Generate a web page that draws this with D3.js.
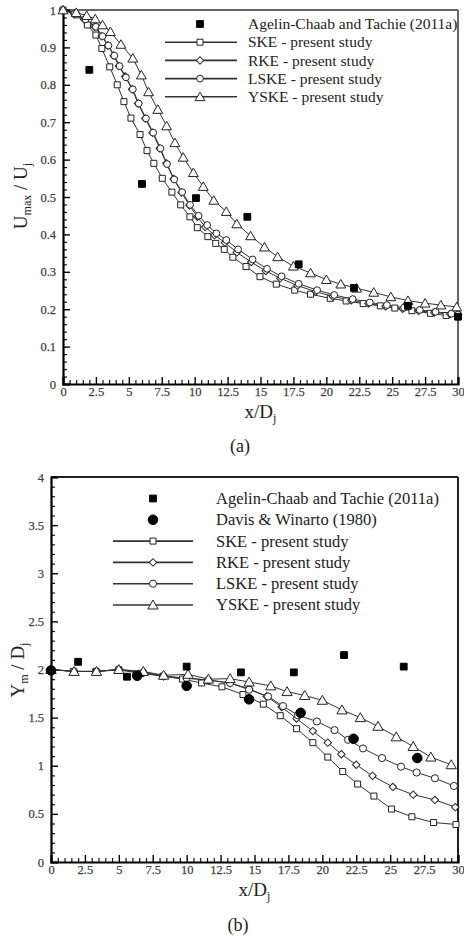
<!DOCTYPE html>
<html><head><meta charset="utf-8">
<script src="https://cdn.jsdelivr.net/npm/d3@7"></script>
<style>body{margin:0;background:#fff}svg{display:block}</style>
</head><body><div id="chart"></div>
<script>
// ---------- DATA ----------
const xTickValues = [0,2.5,5,7.5,10,12.5,15,17.5,20,22.5,25,27.5,30];
const xTickLabels = ["0","2.5","5","7.5","10","12.5","15","17.5","20","22.5","25","27.5","30"];
const yTickValuesA = [0,0.1,0.2,0.3,0.4,0.5,0.6,0.7,0.8,0.9,1];
const yTickLabelsA = ["0","0.1","0.2","0.3","0.4","0.5","0.6","0.7","0.8","0.9","1"];
const yTickValuesB = [0,0.5,1,1.5,2,2.5,3,3.5,4];
const yTickLabelsB = ["0","0.5","1","1.5","2","2.5","3","3.5","4"];

const legendA = ["Agelin-Chaab and Tachie (2011a)","SKE - present study","RKE - present study","LSKE - present study","YSKE - present study"];
const legendB = ["Agelin-Chaab and Tachie (2011a)","Davis & Winarto (1980)","SKE - present study","RKE - present study","LSKE - present study","YSKE - present study"];

// Panel (a): Umax/Uj vs x/Dj
const aAgelin = [[2.0,0.84],[6.0,0.535],[10.1,0.497],[14.0,0.447],[17.9,0.32],[22.1,0.257],[26.2,0.209],[30.0,0.18]];
const aSKE = [[0,1.0],[1.0,0.987],[1.85,0.96],[2.5,0.933],[2.95,0.897],[3.55,0.848],[4.12,0.8],[4.63,0.755],[5.16,0.711],[5.85,0.667],[6.38,0.624],[6.9,0.59],[7.54,0.55],[8.27,0.513],[8.94,0.479],[9.64,0.447],[10.2,0.418],[11.0,0.394],[11.6,0.376],[12.25,0.36],[12.9,0.339],[13.9,0.314],[14.96,0.287],[16.2,0.267],[17.6,0.251],[18.8,0.24],[20.3,0.229],[21.5,0.222],[22.8,0.215],[24.1,0.209],[25.2,0.203],[26.5,0.196],[27.9,0.189],[29.1,0.183],[30,0.18]];
const aRKE = [[0,1.0],[0.85,0.99],[1.6,0.975],[2.4,0.955],[2.95,0.93],[3.4,0.905],[3.85,0.878],[4.25,0.85],[4.72,0.822],[5.25,0.788],[5.7,0.75],[6.25,0.71],[6.8,0.672],[7.35,0.63],[7.85,0.59],[8.4,0.548],[9.0,0.512],[9.6,0.478],[10.2,0.447],[10.8,0.42],[11.5,0.398],[12.3,0.378],[13.2,0.352],[14.3,0.326],[15.4,0.302],[16.5,0.283],[17.8,0.263],[19.2,0.247],[20.5,0.234],[21.9,0.224],[23.2,0.215],[24.5,0.208],[25.8,0.201],[27.0,0.196],[28.2,0.191],[29.4,0.187],[30,0.185]];
const aLSKE = [[0,1.0],[0.9,0.99],[1.7,0.975],[2.5,0.955],[3.0,0.93],[3.45,0.905],[3.9,0.878],[4.3,0.85],[4.78,0.82],[5.3,0.788],[5.75,0.75],[6.3,0.71],[6.85,0.672],[7.4,0.63],[7.9,0.588],[8.45,0.547],[9.05,0.513],[9.65,0.479],[10.3,0.45],[10.95,0.425],[11.65,0.403],[12.4,0.385],[13.3,0.36],[14.4,0.333],[15.5,0.308],[16.6,0.288],[17.9,0.268],[19.3,0.251],[20.6,0.238],[22.0,0.227],[23.3,0.218],[24.6,0.211],[25.9,0.204],[27.1,0.198],[28.3,0.193],[29.5,0.188],[30,0.186]];
const aYSKE = [[0,1.0],[1.0,0.993],[1.8,0.985],[2.45,0.976],[3.0,0.96],[3.6,0.942],[4.4,0.908],[5.3,0.871],[5.95,0.826],[6.5,0.781],[7.2,0.734],[7.87,0.69],[8.5,0.645],[9.13,0.606],[9.9,0.565],[10.65,0.528],[11.45,0.491],[12.4,0.461],[13.2,0.428],[14.25,0.396],[15.3,0.366],[16.3,0.34],[17.5,0.315],[18.8,0.297],[20.0,0.279],[21.1,0.267],[22.3,0.256],[23.6,0.245],[24.9,0.233],[26.2,0.223],[27.5,0.216],[28.7,0.211],[29.9,0.206]];

// Panel (b): Ym/Dj vs x/Dj
const bAgelin = [[2.0,2.08],[5.6,1.925],[10.0,2.03],[14.0,1.97],[17.9,1.97],[21.6,2.15],[26.0,2.03]];
const bDavis = [[0,1.99],[6.35,1.935],[10.0,1.83],[14.6,1.69],[18.4,1.55],[22.3,1.28],[27.0,1.08]];
const bSKE = [[0,2.0],[1.65,1.98],[3.3,1.98],[5.0,1.995],[6.65,1.96],[8.25,1.93],[9.7,1.9],[11.1,1.86],[12.6,1.82],[14.15,1.74],[15.65,1.64],[16.9,1.52],[18.1,1.385],[19.3,1.24],[20.4,1.09],[21.5,0.94],[22.6,0.81],[23.8,0.685],[25.1,0.55],[26.6,0.47],[28.2,0.41],[29.85,0.39]];
const bRKE = [[0,2.0],[1.7,1.98],[3.35,1.98],[5.0,2.0],[6.8,1.97],[8.3,1.93],[10.0,1.91],[11.6,1.89],[13.2,1.86],[14.6,1.8],[15.9,1.72],[17.0,1.61],[18.1,1.49],[19.3,1.36],[20.4,1.24],[21.4,1.12],[22.5,1.01],[23.7,0.895],[25.2,0.78],[26.7,0.7],[28.3,0.645],[29.8,0.57]];
const bLSKE = [[0,2.0],[1.7,1.98],[3.35,1.98],[5.0,2.0],[6.8,1.97],[8.3,1.93],[10.0,1.91],[11.6,1.89],[13.2,1.86],[14.6,1.79],[16.0,1.72],[17.1,1.62],[18.2,1.525],[19.6,1.46],[20.9,1.37],[21.9,1.27],[23.0,1.18],[24.4,1.08],[25.8,0.99],[26.95,0.93],[28.3,0.87],[29.7,0.79]];
const bYSKE = [[0,2.0],[1.7,1.98],[3.35,1.98],[5.0,2.0],[6.8,1.98],[8.3,1.94],[10.1,1.95],[11.6,1.9],[13.2,1.905],[14.6,1.87],[16.2,1.83],[17.4,1.77],[18.7,1.73],[20.0,1.68],[21.45,1.58],[22.8,1.5],[24.1,1.41],[25.45,1.3],[26.7,1.2],[28.0,1.09],[29.5,1.01]];

// ---------- DRAW ----------
const W = 464, H = 936;
const FONT = "'Liberation Serif','Times New Roman',serif";
const svg = d3.select("#chart").append("svg").attr("width", W).attr("height", H)
  .style("background", "#fff");

const symSquare = d3.symbol().type(d3.symbolSquare);
const symCircle = d3.symbol().type(d3.symbolCircle);
const symTri = d3.symbol().type(d3.symbolTriangle);

function marker(g, kind, x, y, opts) {
  const o = Object.assign({fill: "#fff", stroke: "#222", sw: 1}, opts || {});
  let p;
  if (kind === "square") p = g.append("path").attr("d", symSquare.size(o.size || 40)()).attr("transform", `translate(${x},${y})`);
  else if (kind === "diamond") p = g.append("path").attr("d", symSquare.size(o.size || 30)()).attr("transform", `translate(${x},${y}) rotate(45)`);
  else if (kind === "circle") p = g.append("path").attr("d", symCircle.size(o.size || 38)()).attr("transform", `translate(${x},${y})`);
  else if (kind === "triangle") p = g.append("path").attr("d", symTri.size(o.size || 40)()).attr("transform", `translate(${x},${y + 1})`);
  p.attr("fill", o.fill).attr("stroke", o.stroke).attr("stroke-width", o.sw);
  return p;
}

function panel(cfg) {
  const g = svg.append("g");
  const x = d3.scaleLinear().domain([0, 30]).range([cfg.x0, cfg.x1]);
  const y = d3.scaleLinear().domain(cfg.ydom).range([cfg.y0, cfg.y1]);

  // frame top/right
  g.append("line").attr("x1", cfg.x0).attr("x2", cfg.x1).attr("y1", cfg.y1).attr("y2", cfg.y1)
    .attr("stroke", cfg.frameColor).attr("stroke-width", 2);
  g.append("line").attr("x1", cfg.x1).attr("x2", cfg.x1).attr("y1", cfg.y1).attr("y2", cfg.y0)
    .attr("stroke", cfg.frameColor).attr("stroke-width", 2);

  // minor ticks
  const xMinor = d3.range(0, 30.001, 0.5).filter(v => Math.abs(v / 2.5 - Math.round(v / 2.5)) > 1e-6);
  const yMinor = d3.range(cfg.ydom[0], cfg.ydom[1] + 1e-6, cfg.yMinorStep)
    .filter(v => Math.abs(v / cfg.yMajorStep - Math.round(v / cfg.yMajorStep)) > 1e-6);
  g.append("g").attr("transform", `translate(0,${cfg.y0})`)
    .call(d3.axisBottom(x).tickValues(xMinor).tickSize(-4).tickFormat(""))
    .call(s => s.select(".domain").remove())
    .selectAll("line").attr("stroke", "#111").attr("stroke-width", 1.2);
  g.append("g").attr("transform", `translate(${cfg.x0},0)`)
    .call(d3.axisLeft(y).tickValues(yMinor).tickSize(-4).tickFormat(""))
    .call(s => s.select(".domain").remove())
    .selectAll("line").attr("stroke", "#111").attr("stroke-width", 1.2);

  // major axes
  const xa = g.append("g").attr("transform", `translate(0,${cfg.y0})`)
    .call(d3.axisBottom(x).tickValues(xTickValues).tickSize(-7).tickPadding(3)
      .tickFormat((d, i) => xTickLabels[i]));
  const ya = g.append("g").attr("transform", `translate(${cfg.x0},0)`)
    .call(d3.axisLeft(y).tickValues(cfg.yTicks).tickSize(-7).tickPadding(7)
      .tickFormat((d, i) => cfg.yLabels[i]));
  [xa, ya].forEach(a => {
    a.attr("font-family", FONT);
    a.select(".domain").attr("stroke", "#000").attr("stroke-width", 2.2);
    a.selectAll(".tick line").attr("stroke", "#000").attr("stroke-width", 1.4);
    a.selectAll(".tick text").style("font-family", FONT).attr("font-size", 12.5)
      .attr("fill", "#333").attr("stroke", "#555").attr("stroke-width", 0.25);
  });

  // series
  const line = d3.line().x(d => x(d[0])).y(d => y(d[1]));
  cfg.series.forEach(s => {
    g.append("path").datum(s.data).attr("d", line).attr("fill", "none")
      .attr("stroke", "#333").attr("stroke-width", 1);
  });
  cfg.series.forEach(s => {
    s.data.forEach(d => marker(g, s.kind, x(d[0]), y(d[1]), {size: s.size}));
  });
  cfg.scatter.forEach(s => {
    s.data.forEach(d => marker(g, s.kind, x(d[0]), y(d[1]), {fill: "#000", stroke: "#000", size: s.size}));
  });

  // legend
  const L = cfg.legend;
  L.items.forEach((it, i) => {
    const ly = L.y + i * L.dy;
    if (it.line) g.append("line").attr("x1", L.lx0).attr("x2", L.lx1).attr("y1", ly).attr("y2", ly)
      .attr("stroke", "#333").attr("stroke-width", 1.6);
    marker(g, it.kind, L.mx, ly, it.filled ? {fill: "#000", stroke: "#000", size: it.size} : {size: it.size});
    g.append("text").attr("x", L.tx).attr("y", ly).attr("dy", "0.33em")
      .style("font-family", FONT).attr("font-size", L.fs).attr("fill", "#222").text(it.label);
  });

  // axis titles
  const xt = g.append("text").attr("x", (cfg.x0 + cfg.x1) / 2).attr("y", cfg.xtY)
    .attr("text-anchor", "middle").style("font-family", FONT).attr("font-size", 19).attr("fill", "#222");
  xt.append("tspan").text("x/D");
  xt.append("tspan").attr("dy", 4).attr("font-size", 12).text("j");

  const yt = g.append("text").attr("transform", `translate(${cfg.ytX},${cfg.ytY}) rotate(-90)`)
    .attr("text-anchor", "middle").style("font-family", FONT).attr("font-size", 19).attr("fill", "#222");
  cfg.ytParts.forEach(p => {
    const t = yt.append("tspan").text(p.t);
    if (p.sub) t.attr("dy", 4).attr("font-size", 12);
    else if (p.back) t.attr("dy", -4);
  });

  svg.append("text").attr("x", cfg.capX).attr("y", cfg.capY).attr("text-anchor", "middle")
    .style("font-family", FONT).attr("font-size", 18).attr("fill", "#222").text(cfg.caption);
}

panel({
  x0: 63, x1: 458, y0: 384, y1: 10, ydom: [0, 1],
  yTicks: yTickValuesA, yLabels: yTickLabelsA, yMajorStep: 0.1, yMinorStep: 0.02,
  frameColor: "#666",
  series: [
    {data: aSKE, kind: "square", size: 36},
    {data: aRKE, kind: "diamond", size: 28},
    {data: aLSKE, kind: "circle", size: 36},
    {data: aYSKE, kind: "triangle", size: 42}
  ],
  scatter: [{data: aAgelin, kind: "square", size: 46}],
  legend: {y: 24, dy: 18.2, lx0: 165, lx1: 237, mx: 200, tx: 248, fs: 15.5, items: [
    {label: legendA[0], kind: "square", filled: true, line: false, size: 46},
    {label: legendA[1], kind: "square", line: true, size: 36},
    {label: legendA[2], kind: "diamond", line: true, size: 28},
    {label: legendA[3], kind: "circle", line: true, size: 36},
    {label: legendA[4], kind: "triangle", line: true, size: 42}
  ]},
  xtY: 418, ytX: 27, ytY: 196,
  ytParts: [{t: "U"}, {t: "max", sub: true}, {t: " / U", back: true}, {t: "j", sub: true}],
  capX: 240, capY: 452, caption: "(a)"
});

panel({
  x0: 51, x1: 458, y0: 862, y1: 477, ydom: [0, 4],
  yTicks: yTickValuesB, yLabels: yTickLabelsB, yMajorStep: 0.5, yMinorStep: 0.1,
  frameColor: "#222",
  series: [
    {data: bSKE, kind: "square", size: 36},
    {data: bRKE, kind: "diamond", size: 28},
    {data: bLSKE, kind: "circle", size: 40},
    {data: bYSKE, kind: "triangle", size: 46}
  ],
  scatter: [
    {data: bAgelin, kind: "square", size: 46},
    {data: bDavis, kind: "circle", size: 72}
  ],
  legend: {y: 498.5, dy: 21.3, lx0: 113, lx1: 193, mx: 153, tx: 216, fs: 16.5, items: [
    {label: legendB[0], kind: "square", filled: true, line: false, size: 46},
    {label: legendB[1], kind: "circle", filled: true, line: false, size: 72},
    {label: legendB[2], kind: "square", line: true, size: 36},
    {label: legendB[3], kind: "diamond", line: true, size: 28},
    {label: legendB[4], kind: "circle", line: true, size: 40},
    {label: legendB[5], kind: "triangle", line: true, size: 46}
  ]},
  xtY: 896, ytX: 24, ytY: 670,
  ytParts: [{t: "Y"}, {t: "m", sub: true}, {t: " / D", back: true}, {t: "j", sub: true}],
  capX: 238, capY: 931, caption: "(b)"
});
</script></body></html>
